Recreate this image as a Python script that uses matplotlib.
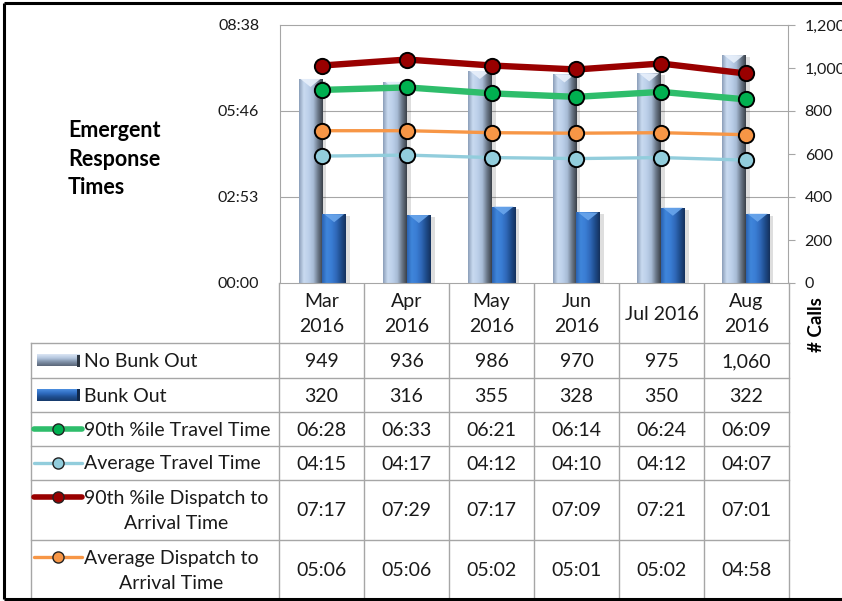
import numpy as np
import matplotlib
matplotlib.use("Agg")
import matplotlib.pyplot as plt
from matplotlib.colors import LinearSegmentedColormap
from matplotlib.patches import Rectangle, Polygon
from matplotlib.transforms import offset_copy

# ---------------- data ----------------
months = ["Mar\n2016", "Apr\n2016", "May\n2016", "Jun\n2016", "Jul 2016", "Aug\n2016"]
no_bunk_out = [949, 936, 986, 970, 975, 1060]
bunk_out = [320, 316, 355, 328, 350, 322]
# times in seconds
p90_travel = [388, 393, 381, 374, 384, 369]          # 06:28 ...
avg_travel = [255, 257, 252, 250, 252, 247]          # 04:15 ...
p90_dispatch = [437, 449, 437, 429, 441, 421]        # 07:17 ...
avg_dispatch = [306, 306, 302, 301, 302, 298]        # 05:06 ...
time_ticks = [0, 172.8, 345.6, 518.4]                # Excel 0.000..0.006 days
count_ticks = [0, 200, 400, 600, 800, 1000, 1200]

FONT = "Lato"
plt.rcParams["font.family"] = [FONT, "DejaVu Sans"]
TXT = "#1a1a1a"
GRID = "#A6A6A6"

W, H = 842, 601
fig = plt.figure(figsize=(W / 100, H / 100), dpi=100)
fig.patch.set_facecolor("white")


def mmss(s):
    s = int(round(s))
    return f"{s // 60:02d}:{s % 60:02d}"


# ---------------- main plot ----------------
ax = fig.add_axes([280 / W, 1 - 283 / H, 508 / W, 258 / H])
ax.set_xlim(-0.5, len(months) - 0.5)
ax.set_ylim(0, 1200)
ax.set_xticks([])
for s in ax.spines.values():
    s.set_color(GRID)
    s.set_linewidth(0.8)

tmax = time_ticks[-1]
for t in time_ticks[1:-1]:
    ax.axhline(t / tmax * 1200, color=GRID, lw=0.8, zorder=0.5)

x = np.arange(len(months))
bw = 0.28
nbo_cmap = LinearSegmentedColormap.from_list(
    "nbo", ["#8A9DB8", "#C9DAF0", "#BCD0EA", "#A8BCD6", "#6A7788", "#3A4048"])
bo_cmap = LinearSegmentedColormap.from_list(
    "bo", ["#2A62B0", "#3F86DB", "#3A7DD4", "#2F68B8", "#1E4B8A", "#14315C"])
grad = np.linspace(0, 1, 256).reshape(1, -1)

shadow_tr = offset_copy(ax.transData, fig=fig, x=4, y=-2, units="dots")


def gradient_bars(xs, vals, cmap, top_color):
    bars = ax.bar(xs, vals, width=bw, color="none", edgecolor="none", zorder=2)
    dy = 8 * 1200 / 258
    for r in bars:
        x0, y0 = r.get_x(), r.get_y()
        w, h = r.get_width(), r.get_height()
        sh = Rectangle((x0, y0), w, h, transform=shadow_tr, facecolor="black",
                       alpha=0.13, edgecolor="none", zorder=1.5)
        ax.add_patch(sh)
        im = ax.imshow(grad, extent=[x0, x0 + w, y0, y0 + h], aspect="auto",
                       cmap=cmap, zorder=2, interpolation="bilinear")
        im.set_clip_path(r)
        tri = Polygon([[x0 + w * 0.08, y0 + h], [x0 + w * 0.92, y0 + h],
                       [x0 + w / 2, y0 + h - dy]], closed=True,
                      facecolor=top_color, edgecolor="none", alpha=0.9, zorder=2.1)
        ax.add_patch(tri)
    return bars


gradient_bars(x - 0.14, no_bunk_out, nbo_cmap, "#E8F0FB")
gradient_bars(x + 0.14, bunk_out, bo_cmap, "#6AA6EC")
ax.set_xlim(-0.5, len(months) - 0.5)
ax.set_ylim(0, 1200)

# ---------------- time axis (lines) ----------------
ax2 = ax.twinx()
ax2.set_ylim(0, tmax)
ax2.yaxis.tick_left()
ax2.set_yticks(time_ticks)
ax2.set_yticklabels([mmss(t) for t in time_ticks], fontsize=11.5, color=TXT)
ax2.tick_params(axis="y", length=0, pad=15)
ax2.patch.set_visible(False)
for s in ax2.spines.values():
    s.set_visible(False)

# counts axis on the right (after twinx, which moves it)
ax.yaxis.tick_right()
ax.set_yticks(count_ticks)
ax.set_yticklabels([f"{v:,}" for v in count_ticks], fontsize=11.5, color=TXT)
ax.tick_params(axis="y", direction="out", length=5, width=0.8, color=GRID, pad=7)

series = [
    (p90_dispatch, "#990000", "#990000", 4.6),
    (p90_travel, "#2EBD6B", "#00B050", 4.6),
    (avg_dispatch, "#F79646", "#F79646", 2.4),
    (avg_travel, "#92CDDC", "#92CDDC", 2.4),
]
for vals, lc, mc, lw in series:
    ax2.plot(x, vals, color=lc, lw=lw, marker="o", markersize=11,
             markerfacecolor=mc, markeredgecolor="black", markeredgewidth=1.4,
             solid_capstyle="round", zorder=3)
ax2.set_xlim(-0.5, len(months) - 0.5)

# ---------------- table / frame overlay ----------------
tax = fig.add_axes([0, 0, 1, 1], zorder=-1)
tax.set_xlim(0, W)
tax.set_ylim(H, 0)
tax.axis("off")
tax.patch.set_visible(False)

col_edges = [279, 364, 449, 534, 619, 704, 789]
row_edges = [343, 378, 412, 446, 480, 540, 600]
tleft = 31
top_head = 283

for cx in col_edges:
    tax.plot([cx, cx], [top_head, 600], color=GRID, lw=1)
tax.plot([tleft, tleft], [row_edges[0], 600], color=GRID, lw=1)
for ry in row_edges[:-1]:
    tax.plot([tleft, col_edges[-1]], [ry, ry], color=GRID, lw=1)

TS = 14
# header
for i, m in enumerate(months):
    cxm = (col_edges[i] + col_edges[i + 1]) / 2
    tax.text(cxm, (top_head + row_edges[0]) / 2 + 1, m, ha="center", va="center",
             fontsize=TS, color=TXT, linespacing=1.6)

row_values = [
    [f"{v:,}" for v in no_bunk_out],
    [f"{v:,}" for v in bunk_out],
    [mmss(v) for v in p90_travel],
    [mmss(v) for v in avg_travel],
    [mmss(v) for v in p90_dispatch],
    [mmss(v) for v in avg_dispatch],
]
row_labels = ["No Bunk Out", "Bunk Out", "90th %ile Travel Time", "Average Travel Time",
              "90th %ile Dispatch to\nArrival Time", "Average Dispatch to\nArrival Time"]
icons = [
    ("bar", None), ("bar", None),
    ("line", ("#2EBD6B", "#00B050", 4.0)),
    ("line", ("#92CDDC", "#92CDDC", 2.4)),
    ("line", ("#990000", "#990000", 4.0)),
    ("line", ("#F79646", "#F79646", 2.4)),
]
vgrad = np.linspace(0, 1, 64).reshape(-1, 1)
nbo_icon = LinearSegmentedColormap.from_list("nbi", ["#DCE6F4", "#B4C6DE", "#7E8FA6", "#5A6678"])
bo_icon = LinearSegmentedColormap.from_list("boi", ["#4D8FE0", "#2F6DC2", "#1F4E8F", "#163A6C"])

for r in range(len(row_labels)):
    y0, y1 = row_edges[r], row_edges[r + 1]
    yc = (y0 + y1) / 2
    two = "\n" in row_labels[r]
    iy = yc - 13 if two else yc
    kind, spec = icons[r]
    if kind == "bar":
        cm = nbo_icon if r == 0 else bo_icon
        tax.imshow(vgrad, extent=[37, 80, iy + 6, iy - 6], aspect="auto",
                   cmap=cm, interpolation="bilinear", zorder=2)
        tax.add_patch(Rectangle((77, iy - 6), 3, 12, facecolor="#2B3440" if r == 0 else "#10284A",
                                edgecolor="none", zorder=2.1))
    else:
        lc, mc, lw = spec
        tax.plot([34, 82], [iy, iy], color=lc, lw=lw, solid_capstyle="round", zorder=2)
        tax.plot([58], [iy], marker="o", markersize=8, markerfacecolor=mc,
                 markeredgecolor="#222222", markeredgewidth=1.0, zorder=3)
    tax.text(84, yc + 1, row_labels[r], ha="left", va="center", multialignment="center",
             fontsize=TS, color=TXT, linespacing=1.6)
    for i, v in enumerate(row_values[r]):
        cxm = (col_edges[i] + col_edges[i + 1]) / 2
        tax.text(cxm, yc + 1, v, ha="center", va="center", fontsize=TS, color=TXT)

# title and right axis label
tax.text(68, 159, "Emergent\nResponse\nTimes", ha="left", va="center",
         fontsize=15.5, fontweight="bold", color="black", linespacing=1.45)
tax.text(816, 325, "# Calls", ha="center", va="center", rotation=90,
         fontsize=13.5, fontweight="bold", color="black")

# outer frame (top, left, bottom)
tax.plot([4, W], [3, 3], color="black", lw=2.2, solid_capstyle="butt")
tax.plot([4, 4], [3, 599], color="black", lw=2.2, solid_capstyle="butt")
tax.plot([4, W], [599, 599], color="black", lw=2.2, solid_capstyle="butt")

fig.savefig("out.png", dpi=100)
